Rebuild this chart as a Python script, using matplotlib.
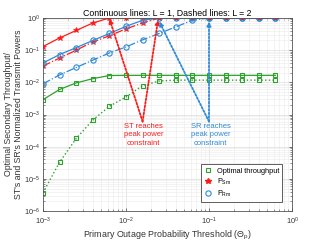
import matplotlib
matplotlib.use("Agg")
import matplotlib.pyplot as plt
from matplotlib.lines import Line2D

plt.rcParams['font.family'] = ['Liberation Sans', 'DejaVu Sans']
plt.rcParams['mathtext.fontset'] = 'custom'
plt.rcParams['mathtext.rm'] = 'Liberation Sans'
plt.rcParams['mathtext.it'] = 'Liberation Sans'

theta = [1.0e-3, 1.585e-3, 2.512e-3, 3.981e-3, 6.310e-3, 1.0e-2, 1.585e-2,
         2.512e-2, 3.981e-2, 6.310e-2, 1.0e-1, 1.585e-1, 2.512e-1, 3.981e-1, 6.310e-1]

ps_L1 = [0.13, 0.24, 0.41, 0.70, 1, 1, 1, 1, 1, 1, 1, 1, 1, 1, 1]
pr_L1 = [0.040, 0.073, 0.12, 0.20, 0.33, 0.55, 0.85, 1, 1, 1, 1, 1, 1, 1, 1]
ps_L2 = [0.032, 0.057, 0.10, 0.18, 0.28, 0.46, 0.70, 1, 1, 1, 1, 1, 1, 1, 1]
pr_L2 = [0.009, 0.017, 0.029, 0.049, 0.082, 0.126, 0.21, 0.33, 0.53, 0.85, 1, 1, 1, 1, 1]
th_L1 = [0.0029, 0.006, 0.0096, 0.013, 0.0163, 0.0165, 0.0165, 0.0165, 0.0165,
         0.0165, 0.0165, 0.0165, 0.0165, 0.0165, 0.0165]
th_L2 = [3.7e-6, 3.3e-5, 1.8e-4, 6.7e-4, 1.8e-3, 3.5e-3, 7.9e-3, 0.011, 0.0117,
         0.0117, 0.0117, 0.0117, 0.0117, 0.0117, 0.0117]

RED = '#FF1A1A'
BLUE = '#2E8AD6'
GREEN = '#2EA02E'

fig = plt.figure(figsize=(3.23, 2.44), dpi=100)
ax = fig.add_axes([43/323, 1-211/244, (292-43)/323, (211-18)/244])

sq = 3.3
st = 4.2
ci = 3.8
ax.plot(theta, th_L1, '-', color=GREEN, lw=0.9, marker='s', ms=sq, mfc='none', mew=0.8)
ax.plot(theta, th_L2, ':', color=GREEN, lw=1.0, marker='s', ms=sq, mfc='none', mew=0.8)
ax.plot(theta, ps_L1, '-', color=RED, lw=0.9, marker='*', ms=st, mew=0.5)
ax.plot(theta, ps_L2, '-.', color=RED, lw=0.9, marker='*', ms=st, mew=0.5)
ax.plot(theta, pr_L1, '-', color=BLUE, lw=0.9, marker='o', ms=ci, mfc='none', mew=0.8)
ax.plot(theta, pr_L2, '-.', color=BLUE, lw=0.9, marker='o', ms=ci, mfc='none', mew=0.8)

ax.set_xscale('log')
ax.set_yscale('log')
ax.set_xlim(1e-3, 1)
ax.set_ylim(1e-6, 1)

ax.grid(True, which='major', color='#DDDDDD', lw=0.5)
ax.grid(True, which='minor', color='#EEEEEE', lw=0.5)
ax.set_axisbelow(True)
ax.tick_params(which='both', direction='in', top=True, right=True, labelsize=5.3,
               color='#444444', labelcolor='#333333')
ax.tick_params(axis='x', pad=3.5)
ax.tick_params(axis='y', pad=2)
ax.tick_params(which='major', length=2.5, width=0.5)
ax.tick_params(which='minor', length=1.5, width=0.4)
for s in ax.spines.values():
    s.set_color('#555555')
    s.set_linewidth(0.6)

ax.set_title('Continuous lines: L = 1, Dashed lines: L = 2', fontsize=6.3, pad=1.5)
ax.set_xlabel(r'Primary Outage Probability Threshold ($\Theta_p$)', fontsize=6.4, labelpad=1.5,
              color='#333333')
ax.set_ylabel("Optimal Secondary Throughput/\nST's and SR's Normalized Transmit Powers",
              fontsize=6.3, labelpad=1, color='#333333', linespacing=1.1)

tail_y = 10**-3.22
red_tail = (10**-1.80, tail_y)
blue_tail = (10**-1.0, tail_y)
arrows = [
    (red_tail, (10**-2.2, 0.95), RED),
    (red_tail, (10**-1.614, 0.87), RED),
    (blue_tail, (10**-1.6, 0.78), BLUE),
    (blue_tail, (10**-1.0, 0.78), BLUE),
]
for tail, tip, c in arrows:
    ax.annotate('', xy=tip, xytext=tail,
                arrowprops=dict(arrowstyle='-|>', linestyle=(0, (1, 1)), lw=1.3, color=c,
                                mutation_scale=6, shrinkA=0, shrinkB=0))

ax.text(10**-1.787, 10**-3.27, 'ST reaches\npeak power\nconstraint', color=RED,
        fontsize=5.5, ha='center', va='top', linespacing=1.25)
ax.text(10**-0.98, 10**-3.27, 'SR reaches\npeak power\nconstraint', color=BLUE,
        fontsize=5.5, ha='center', va='top', linespacing=1.25)

handles = [
    Line2D([], [], ls='none', marker='s', color=GREEN, mfc='none', ms=sq, mew=0.8),
    Line2D([], [], ls='none', marker='*', color=RED, ms=st),
    Line2D([], [], ls='none', marker='o', color=BLUE, mfc='none', ms=ci, mew=0.8),
]
leg = ax.legend(handles, ['Optimal throughput', r'P$_{\mathrm{Sm}}$', r'P$_{\mathrm{Rm}}$'],
                loc='lower right', fontsize=5.3, frameon=True, fancybox=False,
                edgecolor='#444444', framealpha=1, handlelength=1.0, handletextpad=0.7,
                borderpad=0.4, labelspacing=0.25, bbox_to_anchor=(0.975, 0.03))
leg.get_frame().set_linewidth(0.6)

fig.savefig('out.png', dpi=100)
